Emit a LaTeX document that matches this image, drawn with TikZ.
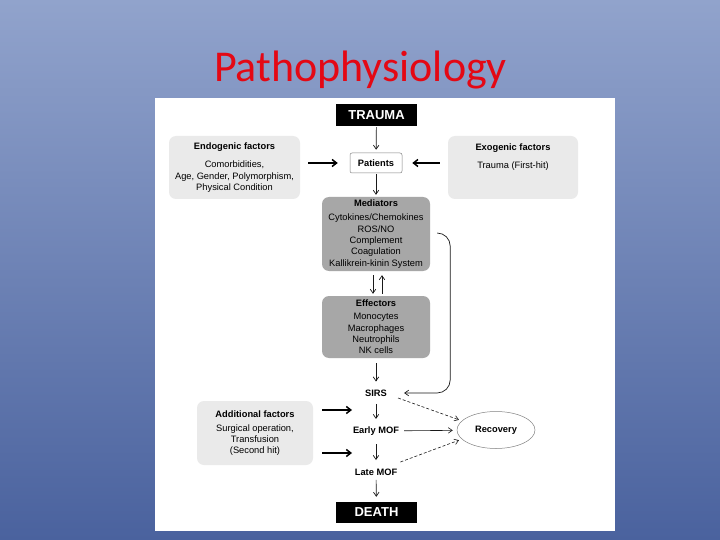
\documentclass[tikz,border=0pt]{standalone}
\usepackage{fontspec}
\setmainfont{Liberation Sans}
\newfontfamily\titlefont{Carlito}
\usetikzlibrary{arrows.meta,shapes.geometric,calc}
\definecolor{bgtop}{RGB}{145,163,204}
\definecolor{bgbot}{RGB}{74,98,158}
\definecolor{titlered}{RGB}{228,8,20}
\definecolor{lightfill}{RGB}{234,234,234}
\definecolor{darkfill}{RGB}{167,167,167}
\definecolor{linegray}{RGB}{130,130,130}
\begin{document}
\begin{tikzpicture}[x=1pt,y=-1pt,
  font=\fontsize{9.3}{11.3}\selectfont,
  lightbox/.style={rectangle, rounded corners=7pt, fill=lightfill, align=center, inner sep=0pt},
  darkbox/.style={rectangle, rounded corners=7pt, fill=darkfill, align=center, inner sep=0pt, minimum width=108pt},
  blackbox/.style={rectangle, fill=black, text=white, font=\bfseries\fontsize{13}{15}\selectfont, minimum width=81pt, inner sep=0pt},
  patbox/.style={rectangle, draw=linegray, fill=white, rounded corners=2pt, minimum width=52pt, minimum height=20pt, font=\bfseries\fontsize{9.3}{11.3}\selectfont, line width=0.5pt, inner sep=0pt},
  stage/.style={font=\bfseries\fontsize{9.3}{11.3}\selectfont, inner sep=2pt},
  arr/.style={-{Straight Barb[length=4pt,width=5.5pt]}, line width=0.7pt, draw=black!90},
  tarr/.style={-{Straight Barb[length=4.5pt,width=7pt]}, line width=1.5pt},
  darr/.style={arr, line width=0.6pt, dash pattern=on 3pt off 2pt}
]
\useasboundingbox (0,0) rectangle (720,540);
\shade[top color=bgtop, bottom color=bgbot] (0,0) rectangle (720,540);
\fill[white] (155,98) rectangle (615,531);

\node[font=\titlefont\fontsize{44}{50}\selectfont, text=titlered, anchor=base] (title) at (360.5,82) {Pathophysiology};

\node[blackbox, minimum height=22pt] (trauma) at (376.5,115) {TRAUMA};
\node[patbox] (pat) at (376,163) {Patients};
\node[lightbox, minimum width=131pt, minimum height=63pt] (endo) at (234.5,167.5)
  {\textbf{Endogenic factors}\\[7pt]Comorbidities,\\Age, Gender, Polymorphism,\\Physical Condition};
\node[lightbox, minimum width=130pt, minimum height=63pt] (exo) at (513,167.5)
  {\textbf{Exogenic factors}\\[7pt]Trauma (First-hit)\\~\\~};
\node[darkbox, minimum height=74pt] (med) at (376,234)
  {\textbf{Mediators}\\[2.7pt]Cytokines/Chemokines\\ROS/NO\\Complement\\Coagulation\\Kallikrein-kinin System};
\node[darkbox, minimum height=62pt] (eff) at (376,327)
  {\textbf{Effectors}\\[1.7pt]Monocytes\\Macrophages\\Neutrophils\\NK cells};
\node[lightbox, minimum width=116pt, minimum height=64pt] (add) at (255,433)
  {\textbf{Additional factors}\\[2.5pt]Surgical operation,\\Transfusion\\(Second hit)};

\node[stage] (sirs) at (376,393) {SIRS};
\node[stage] (early) at (376,431) {Early MOF};
\node[stage] (late) at (376,472) {Late MOF};
\node[blackbox, minimum height=21pt] (death) at (376.5,512.5) {DEATH};
\node[ellipse, draw=linegray, line width=0.5pt, minimum width=78pt, minimum height=37pt, inner sep=0pt, font=\bfseries\fontsize{9.3}{11.3}\selectfont] (rec) at (496,430) {Recovery};

\coordinate (a1) at (352,410);
\coordinate (a2) at (352,453);

% vertical flow
\draw[arr, shorten <=1pt, shorten >=3pt] (trauma) -- (pat);
\draw[arr, shorten <=1pt, shorten >=2pt] (pat) -- (med);
\draw[arr, shorten <=4pt, shorten >=2pt] ([xshift=-3pt]med.south) -- ([xshift=-3pt]eff.north);
\draw[arr, shorten <=2pt, shorten >=4pt] ([xshift=6pt]eff.north) -- ([xshift=6pt]med.south);
\draw[arr, shorten <=5pt, shorten >=6pt] (eff) -- (sirs);
\draw[arr, shorten <=5.5pt, shorten >=5.5pt] (sirs) -- (early);
\draw[arr, shorten <=6.5pt, shorten >=6.5pt] (early) -- (late);
\draw[arr, shorten <=2.5pt, shorten >=5pt] (late) -- (death);

% factor arrows
\draw[tarr, shorten <=8pt, shorten >=12pt] (endo.east |- pat) -- (pat.west);
\draw[tarr, shorten <=8pt, shorten >=10pt] (exo.west |- pat) -- (pat.east);
\draw[tarr, shorten <=9pt] (add.east |- a1) -- (a1);
\draw[tarr, shorten <=9pt] (add.east |- a2) -- (a2);

% feedback
\draw[arr, rounded corners=13pt] ([xshift=7pt,yshift=1pt]med.east) -- ++(13,0) |- ([xshift=15pt]sirs.east);

% recovery
\draw[darr, shorten >=3pt] ([shift={(9pt,-5pt)}]sirs.east) -- (rec.165);
\draw[arr, line width=0.6pt, shorten <=3pt, shorten >=4pt] (early) -- (rec);
\draw[darr, shorten >=3pt] ([shift={(1pt,10pt)}]late.east) -- (rec.195);
\end{tikzpicture}
\end{document}
